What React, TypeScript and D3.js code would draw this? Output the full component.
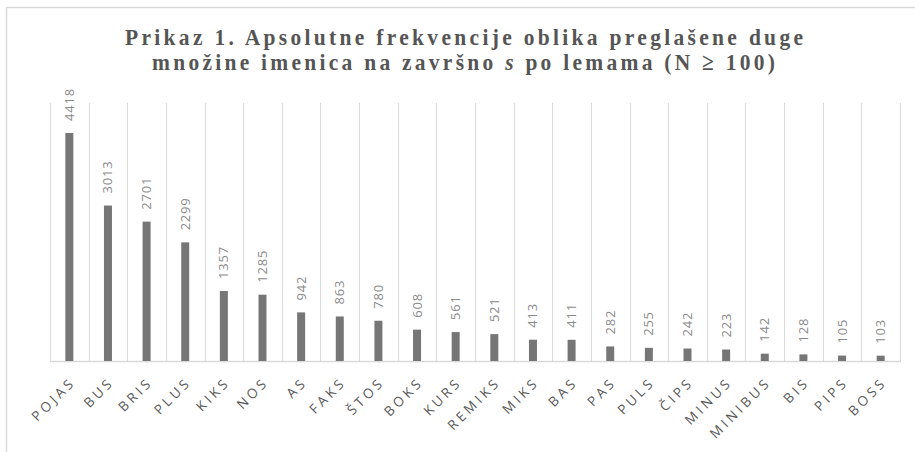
import React from "react";
import * as d3 from "d3";

const categories = ["POJAS","BUS","BRIS","PLUS","KIKS","NOS","AS","FAKS","ŠTOS","BOKS","KURS","REMIKS","MIKS","BAS","PAS","PULS","ČIPS","MINUS","MINIBUS","BIS","PIPS","BOSS"];
const values = [4418,3013,2701,2299,1357,1285,942,863,780,608,561,521,413,411,282,255,242,223,142,128,105,103];
const yDomain = [0, 5000];
const titleLine1 = "Prikaz 1. Apsolutne frekvencije oblika preglašene duge";
const titleLine2a = "množine imenica na završno ";
const titleLine2b = "s";
const titleLine2c = " po lemama (N ≥ 100)";

const W = 915, H = 452;
const plot = { left: 50, right: 900, top: 103, bottom: 361 };

export default function App() {
  const x = d3.scaleBand<string>().domain(categories).range([plot.left, plot.right]).paddingInner(0).paddingOuter(0);
  const y = d3.scaleLinear().domain(yDomain).range([plot.bottom, plot.top]);
  const bw = 8;
  const grid = categories.map((c) => x(c)!).concat([plot.right]);
  return (
    <svg width={W} height={H} style={{ position: "absolute", left: 0, top: 0, background: "#fff" }}>
      <rect x={6.5} y={7.5} width={920} height={460} fill="#fff" stroke="#d9d9d9" strokeWidth={1.5} />
      <g transform="translate(464,45) scale(1,1.12)">
        <text x={0} y={0} textAnchor="middle" fontFamily="Liberation Serif, serif" fontWeight="bold" fontSize={21.5} fill="#555" textLength={678} lengthAdjust="spacing">{titleLine1}</text>
      </g>
      <g transform="translate(463.5,70) scale(1,1.12)">
        <text x={0} y={0} textAnchor="middle" fontFamily="Liberation Serif, serif" fontWeight="bold" fontSize={21.5} fill="#555" textLength={623} lengthAdjust="spacing">
          {titleLine2a}<tspan fontStyle="italic">{titleLine2b}</tspan>{titleLine2c}
        </text>
      </g>
      {grid.map((gx, i) => (
        <line key={"g" + i} x1={Math.round(gx) + 0.5} x2={Math.round(gx) + 0.5} y1={plot.top} y2={plot.bottom} stroke="#d9d9d9" strokeWidth={1} />
      ))}
      <line x1={plot.left} x2={plot.right + 1} y1={plot.bottom + 0.5} y2={plot.bottom + 0.5} stroke="#d9d9d9" strokeWidth={1.5} />
      {categories.map((c, i) => {
        const cx = x(c)! + x.bandwidth() / 2;
        const v = values[i];
        return (
          <g key={c}>
            <rect x={cx - bw / 2} y={y(v)} width={bw} height={y(0) - y(v)} fill="#767676" />
            <text transform={`translate(${cx + 4.5},${y(v) - 12}) rotate(-90)`} fontFamily="Open Sans, sans-serif" fontSize={13} letterSpacing={0.8} fill="#8a8a8a">{v}</text>
            <text transform={`translate(${cx + 7},${plot.bottom + 22}) rotate(-45)`} textAnchor="end" fontFamily="Open Sans, sans-serif" fontSize={13.5} letterSpacing={3.4} fill="#595959">{c}</text>
          </g>
        );
      })}
    </svg>
  );
}
